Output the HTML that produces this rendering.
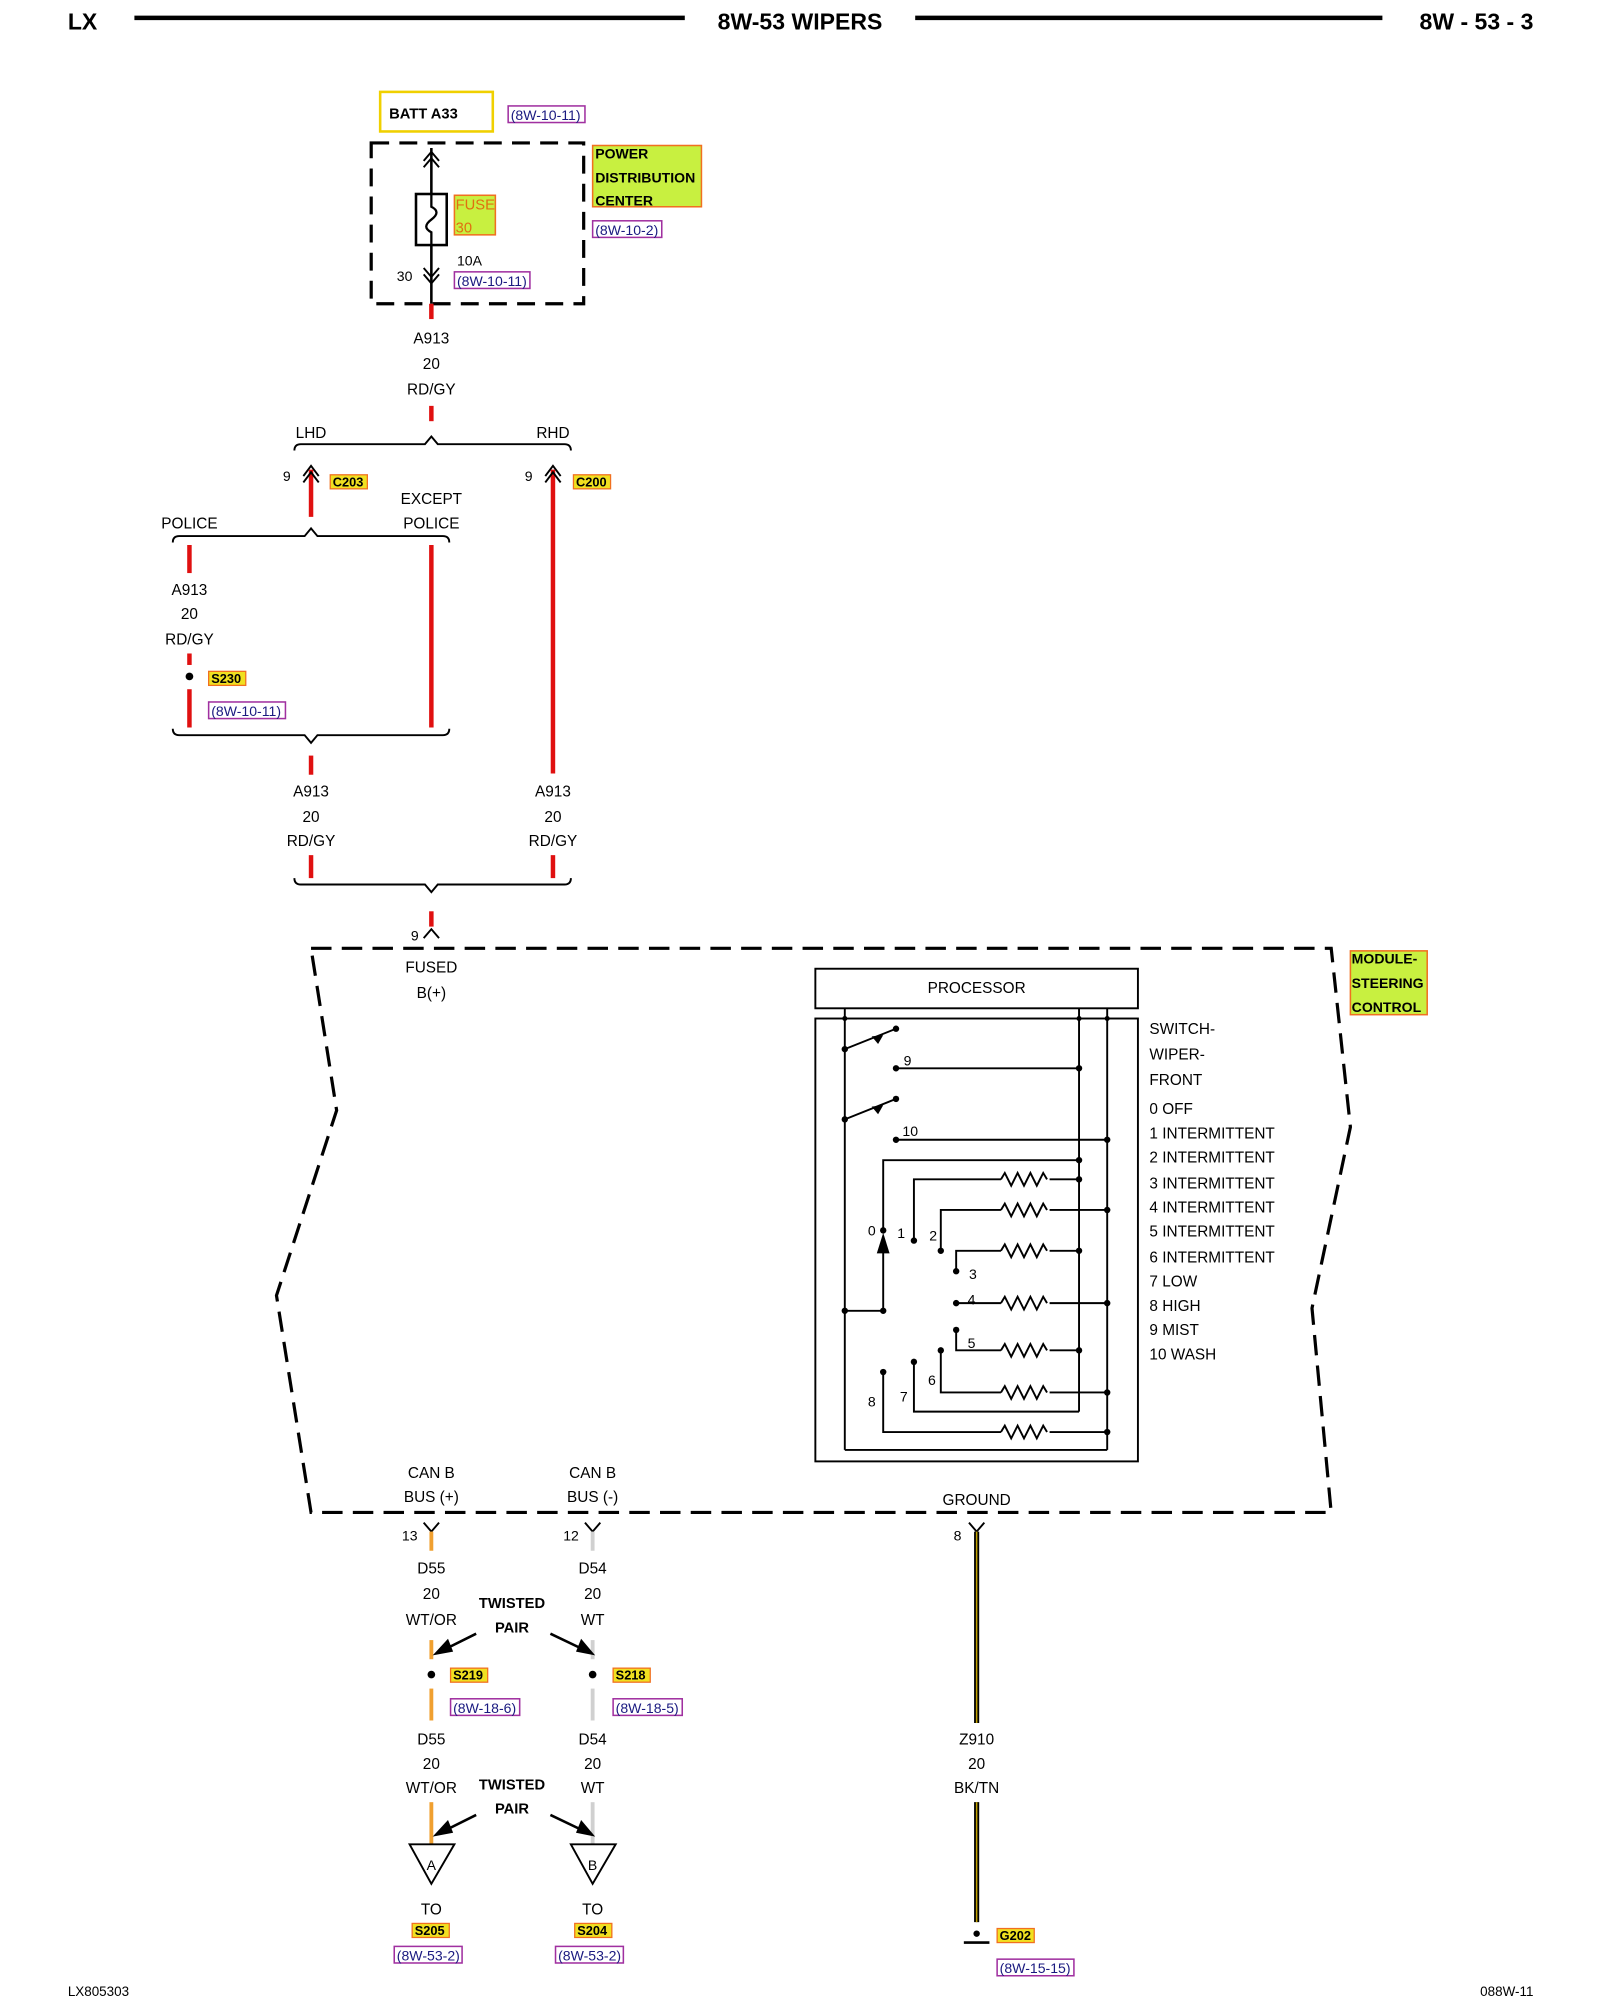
<!DOCTYPE html>
<html><head><meta charset="utf-8"><style>
html,body{margin:0;padding:0;background:#fff;}
svg{display:block;}
text{font-family:"Liberation Sans",sans-serif;font-size:12px;fill:#000;}
.b{font-weight:bold;}
.c{text-anchor:middle;}
.lab{font-size:11px;font-weight:bold;}
.ref{font-size:11px;fill:#1a1a80;}
</style></head><body>
<svg width="1600" height="2000" viewBox="0 0 1250 1567" preserveAspectRatio="none" xmlns="http://www.w3.org/2000/svg">
<!-- header -->
<text x="53" y="23" class="b" style="font-size:18px">LX</text>
<line x1="105" y1="14" x2="535" y2="14" stroke="#000" stroke-width="3.5"/>
<text x="625" y="23" class="b c" style="font-size:18px">8W-53 WIPERS</text>
<line x1="715" y1="14" x2="1080" y2="14" stroke="#000" stroke-width="3.5"/>
<text x="1198" y="23" class="b" style="font-size:18px" text-anchor="end">8W - 53 - 3</text>

<!-- BATT -->
<rect x="297" y="72" width="88" height="31" fill="#fff" stroke="#f0d000" stroke-width="2"/>
<text x="304" y="93" class="b" style="font-size:11.5px">BATT A33</text>
<rect x="397" y="83" width="60" height="13" fill="#fff" stroke="#a030a0" stroke-width="1.2"/>
<text x="399" y="94" class="ref">(8W-10-11)</text>

<!-- PDC -->
<rect x="290" y="112" width="166" height="126" fill="none" stroke="#000" stroke-width="2.5" stroke-dasharray="14,8"/>
<line x1="337" y1="116" x2="337" y2="238" stroke="#000" stroke-width="2"/>
<path d="M331,126 L337,119 L343,126 M331,131 L337,124 L343,131" fill="none" stroke="#000" stroke-width="1.5"/>
<path d="M331,210 L337,217 L343,210 M331,215 L337,222 L343,215" fill="none" stroke="#000" stroke-width="1.5"/>
<rect x="325" y="152" width="24" height="40" fill="#fff" stroke="#000" stroke-width="2"/>
<path d="M337,152 L337,162 Q345,166 337,172 Q329,178 337,182 L337,192" fill="none" stroke="#000" stroke-width="1.8"/>
<rect x="355" y="153" width="32" height="31" fill="#c8f040" stroke="#f07020" stroke-width="1.2"/>
<text x="356" y="164" style="font-size:11.5px;fill:#e07010">FUSE</text>
<text x="356" y="182" style="font-size:11.5px;fill:#e07010">30</text>
<text x="357" y="208" style="font-size:11px">10A</text>
<rect x="355" y="213" width="59" height="13" fill="#fff" stroke="#a030a0" stroke-width="1.2"/>
<text x="357" y="224" class="ref">(8W-10-11)</text>
<text x="310" y="220" style="font-size:11px">30</text>
<rect x="463" y="114" width="85" height="48" fill="#c8f040" stroke="#f07020" stroke-width="1.2"/>
<text x="465" y="124" class="lab">POWER</text>
<text x="465" y="143" class="lab">DISTRIBUTION</text>
<text x="465" y="161" class="lab">CENTER</text>
<rect x="463" y="173" width="54" height="13" fill="#fff" stroke="#a030a0" stroke-width="1.2"/>
<text x="465" y="184" class="ref">(8W-10-2)</text>

<!-- red wires top -->
<g stroke="#e01010" stroke-width="3.5">
<line x1="337" y1="238" x2="337" y2="250"/>
<line x1="337" y1="318" x2="337" y2="330"/>
<line x1="243" y1="368" x2="243" y2="405"/>
<line x1="432" y1="368" x2="432" y2="606"/>
<line x1="148" y1="427" x2="148" y2="449"/>
<line x1="148" y1="512" x2="148" y2="521"/>
<line x1="148" y1="540" x2="148" y2="570"/>
<line x1="337" y1="427" x2="337" y2="570"/>
<line x1="243" y1="592" x2="243" y2="607"/>
<line x1="243" y1="670" x2="243" y2="688"/>
<line x1="432" y1="670" x2="432" y2="688"/>
<line x1="337" y1="714" x2="337" y2="726"/>
</g>
<text x="337" y="269" class="c">A913</text>
<text x="337" y="289" class="c">20</text>
<text x="337" y="309" class="c">RD/GY</text>
<g fill="none" stroke="#000" stroke-width="1.5">
<path d="M230,353 Q230,348 235,348 L332,348 L337,342 L342,348 L441,348 Q446,348 446,353"/>
<path d="M237,378 L243,370 L249,378 M237,373 L243,365 L249,373"/>
<path d="M426,378 L432,370 L438,378 M426,373 L432,365 L438,373"/>
<path d="M135,425 Q135,420 140,420 L238,420 L243,414 L248,420 L346,420 Q351,420 351,425"/>
<path d="M135,571 Q135,576 140,576 L238,576 L243,582 L248,576 L346,576 Q351,576 351,571"/>
<path d="M230,688 Q230,693 235,693 L332,693 L337,699 L342,693 L441,693 Q446,693 446,688"/>
<path d="M331,735 L337,728 L343,735"/>
</g>
<text x="243" y="343" class="c">LHD</text>
<text x="432" y="343" class="c">RHD</text>
<text x="221" y="377" style="font-size:11px">9</text>
<text x="410" y="377" style="font-size:11px">9</text>
<rect x="258" y="372" width="29" height="11" fill="#f0e020" stroke="#f07020"/>
<text x="260" y="381" class="lab" style="font-size:10px">C203</text>
<rect x="448" y="372" width="29" height="11" fill="#f0e020" stroke="#f07020"/>
<text x="450" y="381" class="lab" style="font-size:10px">C200</text>
<text x="337" y="395" class="c">EXCEPT</text>
<text x="337" y="414" class="c">POLICE</text>
<text x="148" y="414" class="c">POLICE</text>
<text x="148" y="466" class="c">A913</text>
<text x="148" y="485" class="c">20</text>
<text x="148" y="505" class="c">RD/GY</text>
<circle cx="148" cy="530" r="3" fill="#000"/>
<rect x="163" y="526" width="29" height="11" fill="#f0e020" stroke="#f07020"/>
<text x="165" y="535" class="lab" style="font-size:10px">S230</text>
<rect x="163" y="550" width="60" height="13" fill="#fff" stroke="#a030a0" stroke-width="1.2"/>
<text x="165" y="561" class="ref">(8W-10-11)</text>
<text x="243" y="624" class="c">A913</text>
<text x="243" y="644" class="c">20</text>
<text x="243" y="663" class="c">RD/GY</text>
<text x="432" y="624" class="c">A913</text>
<text x="432" y="644" class="c">20</text>
<text x="432" y="663" class="c">RD/GY</text>
<text x="321" y="737" style="font-size:11px">9</text>
<text x="337" y="762" class="c">FUSED</text>
<text x="337" y="782" class="c">B(+)</text>

<!-- module outline -->
<polygon points="243,743 1040,743 1055,883 1025,1025 1040,1185 243,1185 216,1015 263,870" fill="none" stroke="#000" stroke-width="2.5" stroke-dasharray="16,8"/>
<rect x="1055" y="745" width="60" height="50" fill="#c8f040" stroke="#f07020" stroke-width="1.2"/>
<text x="1056" y="755" class="lab">MODULE-</text>
<text x="1056" y="774" class="lab">STEERING</text>
<text x="1056" y="793" class="lab">CONTROL</text>

<!-- processor -->
<rect x="637" y="759" width="252" height="31" fill="none" stroke="#000" stroke-width="1.5"/>
<text x="763" y="778" class="c">PROCESSOR</text>
<rect x="637" y="798" width="252" height="347" fill="none" stroke="#000" stroke-width="1.5"/>
<g stroke="#000" stroke-width="1.5" fill="none">
<line x1="660" y1="790" x2="660" y2="1136"/>
<line x1="843" y1="790" x2="843" y2="1106"/>
<line x1="865" y1="790" x2="865" y2="1136"/>
<line x1="660" y1="1136" x2="865" y2="1136"/>
<line x1="660" y1="822" x2="700" y2="806"/>
<line x1="700" y1="837" x2="843" y2="837"/>
<line x1="660" y1="877" x2="700" y2="861"/>
<line x1="700" y1="893" x2="865" y2="893"/>
<path d="M843,909 L690,909 L690,964"/>
<path d="M690,980 L690,1027 L660,1027"/>
<path d="M714,972 L714,924 L782,924 M820,924 L843,924"/>
<path d="M735,980 L735,948 L782,948 M820,948 L865,948"/>
<path d="M747,996 L747,980 L782,980 M820,980 L843,980"/>
<path d="M747,1021 L782,1021 M820,1021 L865,1021"/>
<path d="M747,1042 L747,1058 L782,1058 M820,1058 L843,1058"/>
<path d="M735,1058 L735,1091 L782,1091 M820,1091 L865,1091"/>
<path d="M714,1067 L714,1106 L843,1106"/>
<path d="M690,1075 L690,1122 L782,1122 M820,1122 L865,1122"/>
<path d="M782,924 l3,-5 l5,10 l5,-10 l5,10 l5,-10 l5,10 l5,-10 l3,5"/>
<path d="M782,948 l3,-5 l5,10 l5,-10 l5,10 l5,-10 l5,10 l5,-10 l3,5"/>
<path d="M782,980 l3,-5 l5,10 l5,-10 l5,10 l5,-10 l5,10 l5,-10 l3,5"/>
<path d="M782,1021 l3,-5 l5,10 l5,-10 l5,10 l5,-10 l5,10 l5,-10 l3,5"/>
<path d="M782,1058 l3,-5 l5,10 l5,-10 l5,10 l5,-10 l5,10 l5,-10 l3,5"/>
<path d="M782,1091 l3,-5 l5,10 l5,-10 l5,10 l5,-10 l5,10 l5,-10 l3,5"/>
<path d="M782,1122 l3,-5 l5,10 l5,-10 l5,10 l5,-10 l5,10 l5,-10 l3,5"/>
</g>
<polygon points="690,966 685,982 695,982" fill="#000"/>
<polygon points="690,811 681,812 686,818" fill="#000"/>
<polygon points="690,866 681,867 686,873" fill="#000"/>
<g fill="#000">
<circle cx="660" cy="822" r="2.5"/><circle cx="700" cy="806" r="2.5"/><circle cx="700" cy="837" r="2.5"/><circle cx="843" cy="837" r="2.5"/>
<circle cx="660" cy="877" r="2.5"/><circle cx="700" cy="861" r="2.5"/><circle cx="700" cy="893" r="2.5"/><circle cx="865" cy="893" r="2.5"/>
<circle cx="843" cy="909" r="2.5"/><circle cx="690" cy="964" r="2.5"/><circle cx="690" cy="1027" r="2.5"/><circle cx="660" cy="1027" r="2.5"/>
<circle cx="714" cy="972" r="2.5"/><circle cx="843" cy="924" r="2.5"/><circle cx="735" cy="980" r="2.5"/><circle cx="865" cy="948" r="2.5"/>
<circle cx="747" cy="996" r="2.5"/><circle cx="843" cy="980" r="2.5"/><circle cx="747" cy="1021" r="2.5"/><circle cx="865" cy="1021" r="2.5"/>
<circle cx="747" cy="1042" r="2.5"/><circle cx="843" cy="1058" r="2.5"/><circle cx="735" cy="1058" r="2.5"/><circle cx="865" cy="1091" r="2.5"/>
<circle cx="714" cy="1067" r="2.5"/><circle cx="690" cy="1075" r="2.5"/><circle cx="865" cy="1122" r="2.5"/>
<circle cx="660" cy="798" r="2"/><circle cx="843" cy="798" r="2"/><circle cx="865" cy="798" r="2"/>
</g>
<g style="font-size:11px">
<text x="706" y="835" style="font-size:11px">9</text>
<text x="705" y="890" style="font-size:11px">10</text>
<text x="678" y="968" style="font-size:11px">0</text>
<text x="701" y="970" style="font-size:11px">1</text>
<text x="726" y="972" style="font-size:11px">2</text>
<text x="757" y="1002" style="font-size:11px">3</text>
<text x="756" y="1022" style="font-size:11px">4</text>
<text x="756" y="1056" style="font-size:11px">5</text>
<text x="725" y="1085" style="font-size:11px">6</text>
<text x="703" y="1098" style="font-size:11px">7</text>
<text x="678" y="1102" style="font-size:11px">8</text>
</g>
<g>
<text x="898" y="810">SWITCH-</text>
<text x="898" y="830">WIPER-</text>
<text x="898" y="850">FRONT</text>
<text x="898" y="873">0 OFF</text>
<text x="898" y="892">1 INTERMITTENT</text>
<text x="898" y="911">2 INTERMITTENT</text>
<text x="898" y="931">3 INTERMITTENT</text>
<text x="898" y="950">4 INTERMITTENT</text>
<text x="898" y="969">5 INTERMITTENT</text>
<text x="898" y="989">6 INTERMITTENT</text>
<text x="898" y="1008">7 LOW</text>
<text x="898" y="1027">8 HIGH</text>
<text x="898" y="1046">9 MIST</text>
<text x="898" y="1065">10 WASH</text>
</g>

<!-- bottom connectors -->
<text x="337" y="1158" class="c">CAN B</text>
<text x="337" y="1177" class="c">BUS (+)</text>
<text x="463" y="1158" class="c">CAN B</text>
<text x="463" y="1177" class="c">BUS (-)</text>
<text x="763" y="1179" class="c">GROUND</text>
<g fill="none" stroke="#000" stroke-width="1.5">
<path d="M331,1193 L337,1200 L343,1193"/>
<path d="M457,1193 L463,1200 L469,1193"/>
<path d="M757,1193 L763,1200 L769,1193"/>
</g>
<text x="314" y="1207" style="font-size:11px">13</text>
<text x="440" y="1207" style="font-size:11px">12</text>
<text x="745" y="1207" style="font-size:11px">8</text>
<g stroke="#f0a030" stroke-width="3">
<line x1="337" y1="1200" x2="337" y2="1215"/>
<line x1="337" y1="1285" x2="337" y2="1300"/>
<line x1="337" y1="1323" x2="337" y2="1348"/>
<line x1="337" y1="1412" x2="337" y2="1445"/>
</g>
<g stroke="#d0d0d0" stroke-width="3">
<line x1="463" y1="1200" x2="463" y2="1215"/>
<line x1="463" y1="1285" x2="463" y2="1300"/>
<line x1="463" y1="1323" x2="463" y2="1348"/>
<line x1="463" y1="1412" x2="463" y2="1445"/>
</g>
<text x="337" y="1233" class="c">D55</text>
<text x="337" y="1253" class="c">20</text>
<text x="337" y="1273" class="c">WT/OR</text>
<text x="463" y="1233" class="c">D54</text>
<text x="463" y="1253" class="c">20</text>
<text x="463" y="1273" class="c">WT</text>
<text x="400" y="1260" class="c b" style="font-size:11.5px">TWISTED</text>
<text x="400" y="1279" class="c b" style="font-size:11.5px">PAIR</text>
<g stroke="#000" stroke-width="2">
<line x1="372" y1="1280" x2="348" y2="1292"/>
<line x1="430" y1="1280" x2="455" y2="1292"/>
<line x1="372" y1="1422" x2="348" y2="1434"/>
<line x1="430" y1="1422" x2="455" y2="1434"/>
</g>
<polygon points="338,1297 350,1284 354,1294" fill="#000"/>
<polygon points="465,1297 450,1294 454,1284" fill="#000"/>
<polygon points="338,1439 350,1426 354,1436" fill="#000"/>
<polygon points="465,1439 450,1436 454,1426" fill="#000"/>
<circle cx="337" cy="1312" r="3" fill="#000"/>
<circle cx="463" cy="1312" r="3" fill="#000"/>
<rect x="352" y="1307" width="29" height="11" fill="#f0e020" stroke="#f07020"/>
<text x="354" y="1316" class="lab" style="font-size:10px">S219</text>
<rect x="479" y="1307" width="29" height="11" fill="#f0e020" stroke="#f07020"/>
<text x="481" y="1316" class="lab" style="font-size:10px">S218</text>
<rect x="352" y="1331" width="54" height="13" fill="#fff" stroke="#a030a0" stroke-width="1.2"/>
<text x="354" y="1342" class="ref">(8W-18-6)</text>
<rect x="479" y="1331" width="54" height="13" fill="#fff" stroke="#a030a0" stroke-width="1.2"/>
<text x="481" y="1342" class="ref">(8W-18-5)</text>
<text x="337" y="1367" class="c">D55</text>
<text x="337" y="1386" class="c">20</text>
<text x="337" y="1405" class="c">WT/OR</text>
<text x="463" y="1367" class="c">D54</text>
<text x="463" y="1386" class="c">20</text>
<text x="463" y="1405" class="c">WT</text>
<text x="400" y="1402" class="c b" style="font-size:11.5px">TWISTED</text>
<text x="400" y="1421" class="c b" style="font-size:11.5px">PAIR</text>
<polygon points="320,1445 355,1445 337,1476" fill="#fff" stroke="#000" stroke-width="1.5"/>
<polygon points="446,1445 481,1445 463,1476" fill="#fff" stroke="#000" stroke-width="1.5"/>
<text x="337" y="1465" class="c" style="font-size:11px">A</text>
<text x="463" y="1465" class="c" style="font-size:11px">B</text>
<text x="337" y="1500" class="c">TO</text>
<text x="463" y="1500" class="c">TO</text>
<rect x="322" y="1507" width="29" height="11" fill="#f0e020" stroke="#f07020"/>
<text x="324" y="1516" class="lab" style="font-size:10px">S205</text>
<rect x="449" y="1507" width="29" height="11" fill="#f0e020" stroke="#f07020"/>
<text x="451" y="1516" class="lab" style="font-size:10px">S204</text>
<rect x="308" y="1525" width="53" height="13" fill="#fff" stroke="#a030a0" stroke-width="1.2"/>
<text x="310" y="1536" class="ref">(8W-53-2)</text>
<rect x="434" y="1525" width="53" height="13" fill="#fff" stroke="#a030a0" stroke-width="1.2"/>
<text x="436" y="1536" class="ref">(8W-53-2)</text>

<!-- ground -->
<line x1="763" y1="1200" x2="763" y2="1350" stroke="#000" stroke-width="4"/>
<line x1="763" y1="1200" x2="763" y2="1350" stroke="#c0a000" stroke-width="1.2"/>
<line x1="763" y1="1412" x2="763" y2="1506" stroke="#000" stroke-width="4"/>
<line x1="763" y1="1412" x2="763" y2="1506" stroke="#c0a000" stroke-width="1.2"/>
<text x="763" y="1367" class="c">Z910</text>
<text x="763" y="1386" class="c">20</text>
<text x="763" y="1405" class="c">BK/TN</text>
<circle cx="763" cy="1515" r="2.5" fill="#000"/>
<line x1="753" y1="1522" x2="773" y2="1522" stroke="#000" stroke-width="2"/>
<rect x="779" y="1511" width="29" height="11" fill="#f0e020" stroke="#f07020"/>
<text x="781" y="1520" class="lab" style="font-size:10px">G202</text>
<rect x="779" y="1535" width="60" height="13" fill="#fff" stroke="#a030a0" stroke-width="1.2"/>
<text x="781" y="1546" class="ref">(8W-15-15)</text>

<text x="53" y="1564" style="font-size:10.5px">LX805303</text>
<text x="1198" y="1564" style="font-size:10.5px" text-anchor="end">088W-11</text>
</svg>
</body></html>
